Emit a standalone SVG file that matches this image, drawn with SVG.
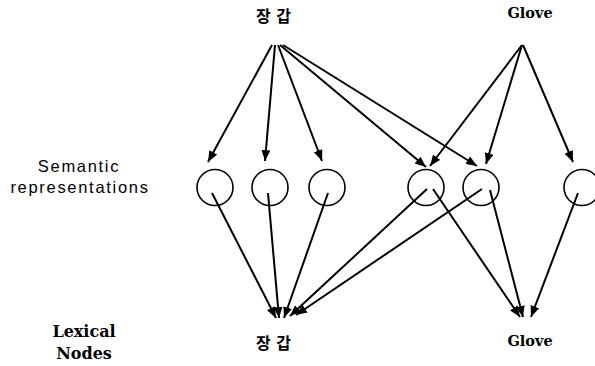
<svg xmlns="http://www.w3.org/2000/svg" width="595" height="366" viewBox="0 0 595 366">
<defs>
<marker id="ah" markerUnits="userSpaceOnUse" markerWidth="13" markerHeight="11" refX="11" refY="4.5" orient="auto">
<path d="M0,0 L11,4.5 L0,9 z" fill="#000"/>
</marker>
<style>
.kr{font-family:"Noto Sans CJK KR","Noto Sans",sans-serif;font-weight:bold;font-size:16px;letter-spacing:1px;fill:#000}
.en{font-family:"DejaVu Serif","Liberation Serif",serif;font-weight:bold;fill:#000}
.sem{font-family:"Liberation Sans",Arial,sans-serif;font-size:16.5px;letter-spacing:1.7px;fill:#000}
.node circle{fill:none;stroke:#000;stroke-width:1.6}
.conn line{stroke:#000;stroke-width:2;marker-end:url(#ah)}
</style>
</defs>
<rect width="595" height="366" fill="#fff"/>

<g id="label-semantic">
<text class="sem" x="79" y="172" text-anchor="middle">Semantic</text>
<text class="sem" x="80" y="193" text-anchor="middle">representations</text>
</g>
<g id="label-lexical">
<text class="en" x="84" y="337" font-size="16" text-anchor="middle">Lexical</text>
<text class="en" x="84" y="359" font-size="16" text-anchor="middle">Nodes</text>
</g>

<g id="top-janggap"><text class="kr" x="274" y="22" text-anchor="middle">장 갑</text></g>
<g id="top-glove"><text class="en" x="530" y="18" font-size="14.5" text-anchor="middle">Glove</text></g>

<g id="sem1" class="node"><circle cx="215" cy="187.5" r="18"/></g>
<g id="sem2" class="node"><circle cx="270" cy="187.5" r="18"/></g>
<g id="sem3" class="node"><circle cx="327" cy="187.5" r="18"/></g>
<g id="sem4" class="node"><circle cx="426" cy="187.5" r="18"/></g>
<g id="sem5" class="node"><circle cx="481" cy="187.5" r="18"/></g>
<g id="sem6" class="node"><circle cx="582" cy="187.5" r="18"/></g>

<g id="lex-janggap"><text class="kr" x="274" y="349" text-anchor="middle">장 갑</text></g>
<g id="lex-glove"><text class="en" x="530" y="346" font-size="14.5" text-anchor="middle">Glove</text></g>

<g id="connectors" class="conn">
<line x1="272" y1="45" x2="208" y2="162"/>
<line x1="275" y1="45" x2="265" y2="161"/>
<line x1="278" y1="45" x2="322" y2="161"/>
<line x1="280" y1="45" x2="426" y2="167"/>
<line x1="283" y1="45" x2="477" y2="166"/>
<line x1="522" y1="45" x2="430" y2="166"/>
<line x1="522" y1="45" x2="486" y2="164"/>
<line x1="523" y1="45" x2="573" y2="162"/>
<line x1="212" y1="193" x2="276" y2="318"/>
<line x1="268" y1="193" x2="279" y2="318"/>
<line x1="328" y1="193" x2="284" y2="318"/>
<line x1="427" y1="189" x2="290" y2="316"/>
<line x1="482" y1="189" x2="296" y2="315"/>
<line x1="433" y1="189" x2="520" y2="317"/>
<line x1="490" y1="190" x2="523" y2="317"/>
<line x1="578" y1="193" x2="531" y2="317"/>
</g>
</svg>
